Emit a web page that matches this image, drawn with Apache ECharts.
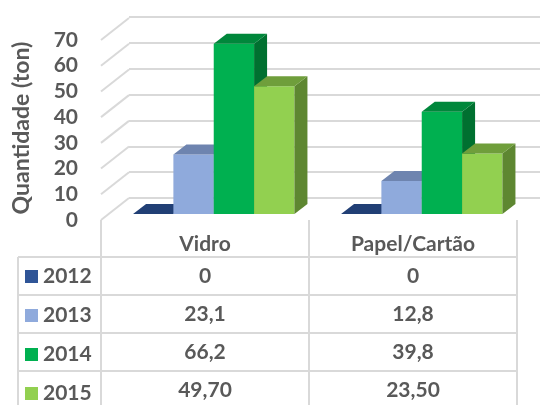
<!DOCTYPE html>
<html>
<head>
<meta charset="utf-8">
<script src="https://cdn.jsdelivr.net/npm/echarts@6/dist/echarts.min.js"></script>
<style>
  html, body { margin: 0; padding: 0; background: #fff; }
  #chart { width: 540px; height: 405px; }
</style>
</head>
<body>
<div id="chart"></div>
<script>
var myChart = echarts.init(document.getElementById("chart"));

// dados
var categories = ["Vidro", "Papel/Cartão"];
var years = ["2012", "2013", "2014", "2015"];
var v2012 = [0, 0];
var v2013 = [23.1, 12.8];
var v2014 = [66.2, 39.8];
var v2015 = [49.7, 23.5];
var decimals = [0, 1, 1, 2];
var yTicks = [0, 10, 20, 30, 40, 50, 60, 70];

var values = [v2012, v2013, v2014, v2015];

// cores: frente, topo, lado
var faceColors = [
	["#2F5597", "#213F75", "#1F3864"],
	["#8FAADC", "#6E84AF", "#6E84AF"],
	["#00B050", "#00873B", "#007030"],
	["#92D050", "#6F9E3B", "#5E8731"]
];

var textColor = "#595959";
var fontFamily = "Lato";
var dx = 13, dy = -10;

function fmt(v, d) {
	return d === 0 ? String(v) : v.toFixed(d).replace(".", ",");
}

function barRender(s) {
	return function (params, api) {
		var top = api.coord([api.value(0), api.value(1)]);
		var base = api.coord([api.value(0), 0]);
		var band = api.size([1, 0])[0];
		var w = band * 0.194;
		var x0 = top[0] - band * 0.346 + s * w;
		var x1 = x0 + w;
		var yt = top[1], yb = base[1];
		var c = faceColors[s];
		return {
			type: "group",
			children: [
				{ type: "rect", shape: { x: x0, y: yt, width: w, height: yb - yt }, style: { fill: c[0] } },
				{ type: "polygon", shape: { points: [[x1, yt], [x1 + dx, yt + dy], [x1 + dx, yb + dy], [x1, yb]] }, style: { fill: c[2] } },
				{ type: "polygon", shape: { points: [[x0, yt], [x1, yt], [x1 + dx, yt + dy], [x0 + dx, yt + dy]] }, style: { fill: c[1] } }
			]
		};
	};
}

var series = [
	{
		// parede lateral esquerda
		type: "custom",
		xAxisIndex: 0,
		yAxisIndex: 0,
		silent: true,
		data: yTicks.map(function (t) { return [0, t]; }),
		renderItem: function (params, api) {
			var p = api.coord([0, api.value(1)]);
			var left = p[0] - api.size([1, 0])[0] / 2;
			return {
				type: "line",
				shape: { x1: left, y1: p[1], x2: left + 28, y2: p[1] - 22 },
				style: { stroke: "#D9D9D9", lineWidth: 2 }
			};
		}
	}
];

years.forEach(function (y, s) {
	series.push({
		name: y,
		type: "custom",
		xAxisIndex: 2,
		yAxisIndex: 2,
		itemStyle: { color: faceColors[s][0] },
		data: values[s].map(function (v, i) { return [i, v]; }),
		renderItem: barRender(s)
	});
});

var labelStyle = {
	color: textColor,
	fontFamily: fontFamily,
	fontWeight: "bold",
	fontSize: 21,
	lineHeight: 20
};

var xAxes = [
	{
		gridIndex: 0,
		type: "category",
		data: categories,
		axisLine: { show: false },
		axisTick: { show: false },
		axisLabel: Object.assign({ margin: 14 }, labelStyle)
	},
	{ gridIndex: 1, type: "category", data: categories, show: false },
	{ gridIndex: 2, type: "category", data: categories, show: false }
];

// linhas da tabela de dados
var rowOffsets = [46, 84, 122, 160];
values.forEach(function (vals, s) {
	xAxes.push({
		gridIndex: 0,
		type: "category",
		position: "bottom",
		offset: rowOffsets[s],
		data: categories,
		axisLine: { show: false },
		axisTick: { show: false },
		axisLabel: Object.assign({
			margin: 0,
			formatter: function (val, idx) { return fmt(vals[idx], decimals[s]); }
		}, labelStyle)
	});
});

var option = {
	animation: false,
	grid: [
		{ left: 101, right: 23, top: 40, height: 180 },
		{ left: 129, right: 0, top: 17, height: 181 },
		{ left: 101, right: 23, top: 34, height: 180 }
	],
	xAxis: xAxes,
	yAxis: [
		{
			gridIndex: 0,
			type: "value",
			min: 0,
			max: 70,
			interval: 10,
			axisLine: { show: false },
			axisTick: { show: false },
			splitLine: { show: false },
			axisLabel: Object.assign({ margin: 23 }, labelStyle),
			name: "Quantidade (ton)",
			nameLocation: "middle",
			nameRotate: 90,
			nameGap: 68,
			nameTextStyle: {
				color: textColor,
				fontFamily: fontFamily,
				fontWeight: "bold",
				fontSize: 23,
				padding: [0, 0, 0, 4]
			}
		},
		{
			gridIndex: 1,
			type: "value",
			min: 0,
			max: 70,
			interval: 10,
			axisLine: { show: false },
			axisTick: { show: false },
			axisLabel: { show: false },
			splitLine: { lineStyle: { color: "#D9D9D9", width: 2 } }
		},
		{
			gridIndex: 2,
			type: "value",
			min: 0,
			max: 70,
			interval: 10,
			show: false
		}
	],
	legend: {
		orient: "vertical",
		left: 25,
		top: 266,
		padding: 0,
		itemGap: 18,
		itemWidth: 13,
		itemHeight: 13,
		icon: "rect",
		selectedMode: false,
		data: years,
		textStyle: labelStyle
	},
	graphic: [
		{ type: "line", shape: { x1: 101, y1: 220, x2: 101, y2: 405 }, style: { stroke: "#D9D9D9", lineWidth: 2 } },
		{ type: "line", shape: { x1: 309, y1: 220, x2: 309, y2: 405 }, style: { stroke: "#D9D9D9", lineWidth: 2 } },
		{ type: "line", shape: { x1: 517, y1: 220, x2: 517, y2: 405 }, style: { stroke: "#D9D9D9", lineWidth: 2 } },
		{ type: "line", shape: { x1: 18, y1: 257, x2: 18, y2: 405 }, style: { stroke: "#D9D9D9", lineWidth: 2 } },
		{ type: "line", shape: { x1: 18, y1: 257, x2: 517, y2: 257 }, style: { stroke: "#D9D9D9", lineWidth: 2 } },
		{ type: "line", shape: { x1: 18, y1: 295, x2: 517, y2: 295 }, style: { stroke: "#D9D9D9", lineWidth: 2 } },
		{ type: "line", shape: { x1: 18, y1: 333, x2: 517, y2: 333 }, style: { stroke: "#D9D9D9", lineWidth: 2 } },
		{ type: "line", shape: { x1: 18, y1: 371, x2: 517, y2: 371 }, style: { stroke: "#D9D9D9", lineWidth: 2 } }
	],
	series: series
};

myChart.setOption(option);

window.addEventListener("resize", function () {
	myChart.resize();
});
</script>
</body>
</html>
